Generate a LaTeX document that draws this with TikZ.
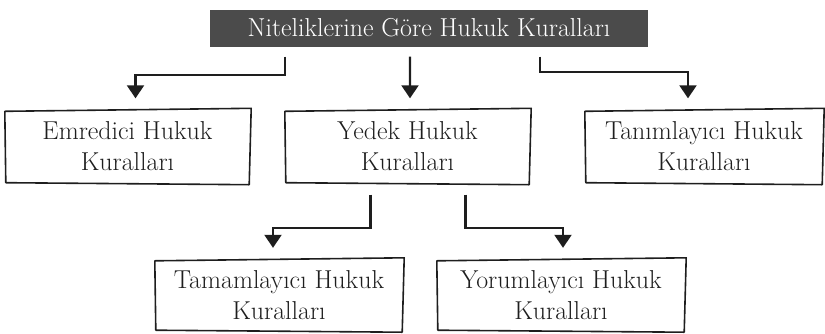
\documentclass[tikz,border=0pt]{standalone}
\usepackage{fontspec}
\usetikzlibrary{arrows.meta}

\definecolor{titlegray}{HTML}{4B4B4B}
\definecolor{inkgray}{HTML}{1E1E1E}

\tikzset{
    kural/.style={align=center, minimum height=72bp, inner sep=0pt,
        font=\fontsize{26}{31}\selectfont, text=inkgray},
    baslik/.style={fill=titlegray, text=white, minimum width=438bp,
        minimum height=37bp, font=\fontsize{26}{28}\selectfont},
    cizgi/.style={draw=inkgray, line width=1.6bp, line join=round},
    bag/.style={draw=inkgray, line width=2.2bp,
        -{Triangle[width=17bp,length=13bp]}, shorten <=10bp, shorten >=12bp}
}

% slightly uneven frame round a node
\newcommand{\cerceve}[1]{%
    \draw[cizgi] ([shift={(0,1)}]#1.north west) -- ([shift={(1,-2)}]#1.north east)
        -- ([shift={(-1,2)}]#1.south east) -- ([shift={(1,0)}]#1.south west) -- cycle;}

\begin{document}
\begin{tikzpicture}[x=1bp,y=-1bp]
    \useasboundingbox (0,0) rectangle (825,333);

    % title
    \node[baslik] (title) at (429,28) {Niteliklerine Göre Hukuk Kuralları};

    % first row
    \node[kural, minimum width=245bp] (emr) at (127.5,146.5) {Emredici Hukuk\\Kuralları};
    \node[kural, minimum width=245bp] (yed) at (407.5,146.5) {Yedek Hukuk\\Kuralları};
    \node[kural, minimum width=238bp] (tan) at (704,146.5) {Tanımlayıcı Hukuk\\Kuralları};

    % second row
    \node[kural, minimum width=248bp, minimum height=70bp] (tam) at (279,295) {Tamamlayıcı Hukuk\\Kuralları};
    \node[kural, minimum width=248bp, minimum height=70bp] (yor) at (561,295) {Yorumlayıcı Hukuk\\Kuralları};

    \foreach \n in {emr,yed,tan,tam,yor}
        {\cerceve{\n}}

    % arrows
    \draw[bag] ([xshift=-144bp]title.south) -- ++(0,28) -| ([xshift=8bp]emr.north);
    \draw[bag] ([xshift=-19bp]title.south) -- ([xshift=2.5bp]yed.north);
    \draw[bag] ([xshift=111bp]title.south) -- ++(0,25) -| ([xshift=-16bp]tan.north);

    \draw[bag, shorten <=12bp] ([xshift=-37bp]yed.south) -- ++(0,45) -| ([xshift=-6bp]tam.north);
    \draw[bag, shorten <=12bp] ([xshift=58bp]yed.south) -- ++(0,45) -| ([xshift=2bp]yor.north);
\end{tikzpicture}
\end{document}
